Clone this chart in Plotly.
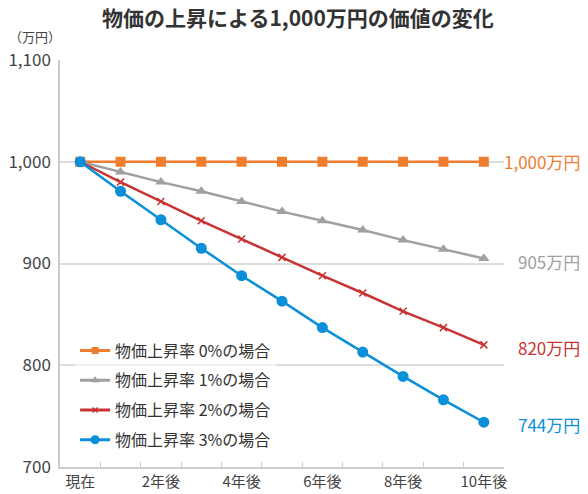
import plotly.graph_objects as go

categories = ["現在", "1年後", "2年後", "3年後", "4年後", "5年後",
              "6年後", "7年後", "8年後", "9年後", "10年後"]
tick_labels = ["現在", "", "2年後", "", "4年後", "", "6年後", "", "8年後", "", "10年後"]

series_names = ["物価上昇率 0%の場合", "物価上昇率 1%の場合",
                "物価上昇率 2%の場合", "物価上昇率 3%の場合"]
rate0 = [1000, 1000, 1000, 1000, 1000, 1000, 1000, 1000, 1000, 1000, 1000]
rate1 = [1000, 990, 980, 971, 961, 951, 942, 933, 923, 914, 905]
rate2 = [1000, 980, 961, 942, 924, 906, 888, 871, 853, 837, 820]
rate3 = [1000, 971, 943, 915, 888, 863, 837, 813, 789, 766, 744]
end_labels = ["1,000万円", "905万円", "820万円", "744万円"]

y_ticks = [700, 800, 900, 1000, 1100]

colors = ["#EE7D2F", "#A0A0A0", "#C83434", "#0A8FD8"]
symbols = ["square", "triangle-up", "x-thin", "circle"]
sizes = [10, 10, 7, 11]
legend_sizes = [7, 8, 5, 9]
yshifts = [0, -3, -3, -2]

FONT = "Noto Sans CJK JP"

fig = go.Figure()
all_series = [rate0, rate1, rate2, rate3]
for i, (name, vals) in enumerate(zip(series_names, all_series)):
    marker = dict(symbol=symbols[i], size=sizes[i], color=colors[i])
    if symbols[i] == "x-thin":
        marker["line"] = dict(width=1.5, color=colors[i])
    fig.add_trace(go.Scatter(
        x=categories, y=vals, name=name, mode="lines+markers",
        line=dict(color=colors[i], width=2.5),
        marker=marker, legendgroup=f"g{i}", showlegend=False,
    ))

# legend entries (smaller symbols, as in the reference legend)
for i, name in enumerate(series_names):
    marker = dict(symbol=symbols[i], size=legend_sizes[i], color=colors[i])
    if symbols[i] == "x-thin":
        marker["line"] = dict(width=1.5, color=colors[i])
    fig.add_trace(go.Scatter(
        x=[None], y=[None], name=name, mode="lines+markers",
        line=dict(color=colors[i], width=3),
        marker=marker, legendgroup=f"g{i}", showlegend=True,
    ))

for i, (vals, txt) in enumerate(zip(all_series, end_labels)):
    fig.add_annotation(
        x=1.1767, xref="paper", y=vals[-1], yref="y", yshift=yshifts[i],
        text=txt, showarrow=False, xanchor="right", yanchor="middle",
        font=dict(family=FONT, size=17, color=colors[i]),
    )

fig.add_annotation(
    x=-0.0564, xref="paper", y=1.058, yref="paper", text="（万円）",
    showarrow=False, xanchor="center", yanchor="middle",
    font=dict(family=FONT, size=13, color="#444444"),
)

fig.update_layout(
    width=580, height=486,
    margin=dict(l=52, r=84, t=52, b=27, autoexpand=False),
    paper_bgcolor="white", plot_bgcolor="white",
    font=dict(family=FONT, size=15, color="#444444"),
    title=dict(text="物価の上昇による1,000万円の価値の変化", x=0.5, xanchor="center",
               y=0.979, yanchor="middle",
               font=dict(family=FONT, size=21, color="#333333", weight="bold")),
    showlegend=True,
    legend=dict(x=0.034, y=0.328, xanchor="left", yanchor="top",
                bgcolor="rgba(255,255,255,0.6)", tracegroupgap=6,
                traceorder="grouped",
                font=dict(family=FONT, size=16, color="#333333")),
    xaxis=dict(
        type="category", range=[-0.5, 10.5], automargin=False,
        tickvals=categories, ticktext=tick_labels, tickangle=0,
        tickson="boundaries", ticks="inside", ticklen=5, tickcolor="#CCCCCC",
        showgrid=False, showline=True, linecolor="#CCCCCC", linewidth=1.5,
        tickfont=dict(family=FONT, size=15, color="#444444"),
    ),
    yaxis=dict(
        range=[700, 1100], tickvals=y_ticks, tickformat=",", automargin=False,
        showgrid=True, gridcolor="#DDDDDD", gridwidth=1.5,
        showline=True, linecolor="#CCCCCC", linewidth=1.5,
        zeroline=False, ticks="", ticklabelstandoff=4,
        tickfont=dict(family=FONT, size=17, color="#444444"),
    ),
)

fig.write_html("out.html")
